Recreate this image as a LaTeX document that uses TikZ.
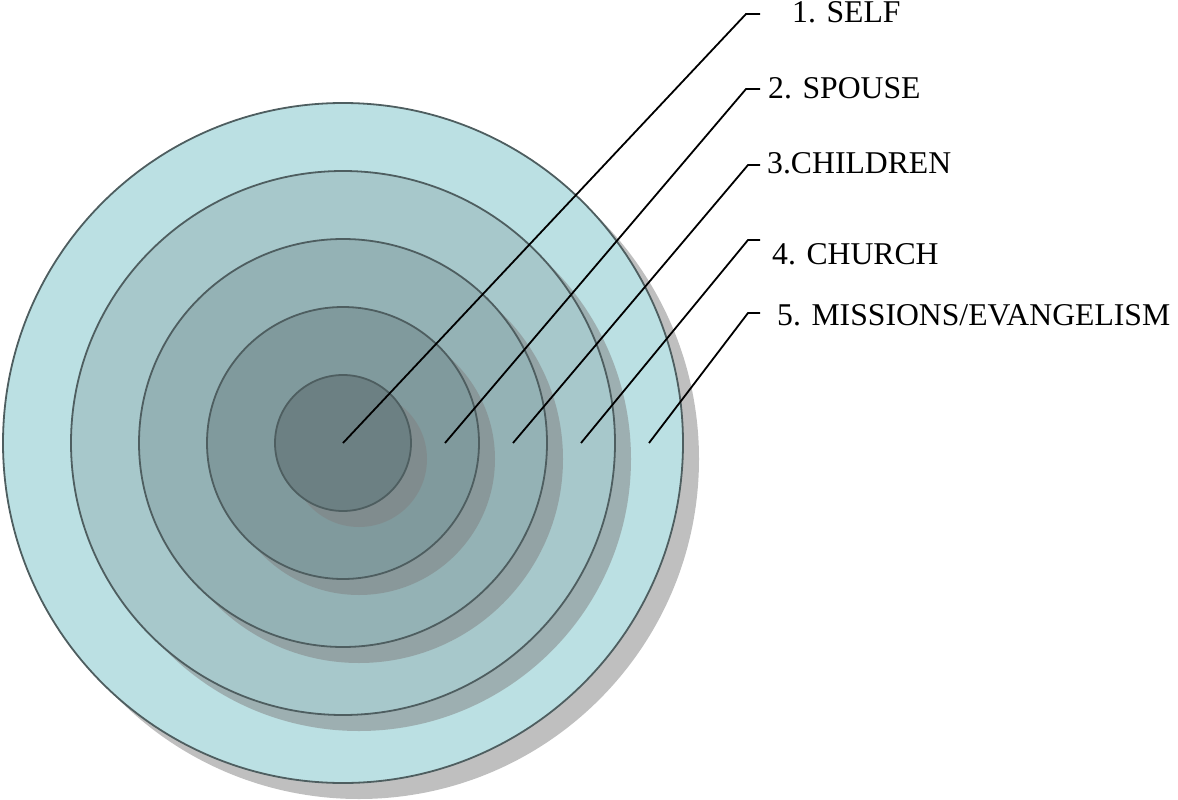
\documentclass[tikz,border=0pt]{standalone}
\usepackage{fontspec}
\setmainfont{Liberation Serif}
\begin{document}
\begin{tikzpicture}[x=1pt,y=-1pt,
  ring/.style={circle,draw=ringline,line width=1.8pt,inner sep=0pt},
  shade/.style={circle,fill=shadowgray,fill opacity=0.5,inner sep=0pt},
  leader/.style={draw=black,line width=1.8pt},
  lbl/.style={anchor=base west,inner sep=0pt,font=\fontsize{31.7}{38}\selectfont}]
\definecolor{ringline}{RGB}{78,94,96}
\definecolor{shadowgray}{RGB}{128,128,128}
\definecolor{cA}{RGB}{187,224,227}
\definecolor{cB}{RGB}{167,200,203}
\definecolor{cC}{RGB}{148,178,181}
\definecolor{cD}{RGB}{128,154,157}
\definecolor{cE}{RGB}{108,128,131}
\useasboundingbox (0,0) rectangle (1178,800);
\node[shade,minimum size=680pt] (s1) at (359,459) {};
\node[ring,fill=cA,minimum size=680pt] (c1) at (343,443) {};
\node[shade,minimum size=544pt] (s2) at (359,459) {};
\node[ring,fill=cB,minimum size=544pt] (c2) at (343,443) {};
\node[shade,minimum size=408pt] (s3) at (359,459) {};
\node[ring,fill=cC,minimum size=408pt] (c3) at (343,443) {};
\node[shade,minimum size=272pt] (s4) at (359,459) {};
\node[ring,fill=cD,minimum size=272pt] (c4) at (343,443) {};
\node[shade,minimum size=136pt] (s5) at (359,459) {};
\node[ring,fill=cE,minimum size=136pt] (c5) at (343,443) {};
% leader start points
\coordinate (p1) at (343,443);
\coordinate (p2) at (445,443);
\coordinate (p3) at (513,443);
\coordinate (p4) at (581,443);
\coordinate (p5) at (649,443);
% bends
\coordinate (k1) at (746,14);
\coordinate (k2) at (746,89);
\coordinate (k3) at (748,165);
\coordinate (k4) at (748,240);
\coordinate (k5) at (748,313);
\coordinate (t1) at (760,14);
\coordinate (t2) at (760,89);
\coordinate (t3) at (760,165);
\coordinate (t4) at (760,240);
\coordinate (t5) at (760,313);
\path[leader] (p1) -- (k1) -- (t1);
\path[leader] (p2) -- (k2) -- (t2);
\path[leader] (p3) -- (k3) -- (t3);
\path[leader] (p4) -- (k4) -- (t4);
\path[leader] (p5) -- (k5) -- (t5);
\node[lbl] (l1) at (792,23) {1. SELF};
\node[lbl] (l2) at (768,98) {2. SPOUSE};
\node[lbl] (l3) at (767,173) {3.CHILDREN};
\node[lbl] (l4) at (772,264) {4. CHURCH};
\node[lbl] (l5) at (777,325) {5. MISSIONS/EVANGELISM};
\end{tikzpicture}
\end{document}
